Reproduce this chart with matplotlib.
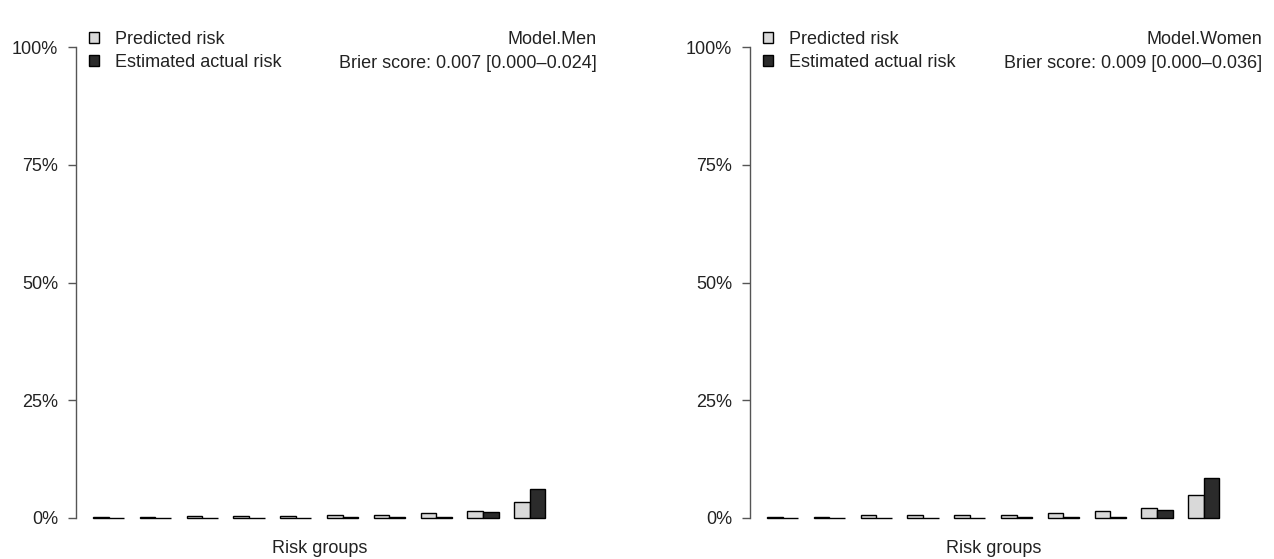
import numpy as np
import matplotlib
matplotlib.use('Agg')
import matplotlib.pyplot as plt
from matplotlib.patches import Patch
from matplotlib.transforms import blended_transform_factory

plt.rcParams['font.family'] = ['Liberation Sans', 'DejaVu Sans']

# risk per decile group, in percent
groups = np.arange(1, 11)
men_predicted = [0.2, 0.2, 0.5, 0.5, 0.5, 0.7, 0.7, 1.0, 1.55, 3.5]
men_actual = [0.0, 0.0, 0.0, 0.0, 0.0, 0.3, 0.3, 0.3, 1.3, 6.2]
women_predicted = [0.2, 0.2, 0.55, 0.55, 0.7, 0.7, 1.0, 1.5, 2.05, 4.9]
women_actual = [0.0, 0.0, 0.0, 0.0, 0.0, 0.3, 0.3, 0.3, 1.6, 8.5]

y_ticks = [0, 25, 50, 75, 100]
y_ticklabels = ['0%', '25%', '50%', '75%', '100%']
legend_labels = ['Predicted risk', 'Estimated actual risk']
men_title = 'Model.Men'
men_brier = 'Brier score: 0.007 [0.000\u20130.024]'
women_title = 'Model.Women'
women_brier = 'Brier score: 0.009 [0.000\u20130.036]'

light = '#d9d9d9'
dark = '#2b2b2b'
axcol = '#555555'
txtcol = '#222222'
fs = 13

W, H = 1274, 559
fig = plt.figure(figsize=(W / 100, H / 100), dpi=100)


def panel(x0, x1, predicted, actual, title, brier):
    # axes box in pixel units: left spine at x0, 0% at y=518, 100% at y=47
    ax = fig.add_axes([x0 / W, (H - 518) / H, (x1 - x0) / W, 471 / H])
    unit = 15.6
    left = 1 + 3 * (groups - 1)   # barplot layout: width 1, gap 1 between pairs
    ax.bar(left, predicted, width=1, align='edge', color=light,
           edgecolor='black', linewidth=1.0, clip_on=False)
    ax.bar(left + 1, actual, width=1, align='edge', color=dark,
           edgecolor='black', linewidth=1.0, clip_on=False)
    ax.set_xlim(-1.4 / unit, (x1 - x0 - 1.4) / unit)
    ax.set_ylim(0, 100)
    for s in ['top', 'right', 'bottom']:
        ax.spines[s].set_visible(False)
    ax.spines['left'].set_color(axcol)
    ax.spines['left'].set_linewidth(1.0)
    ax.set_xticks([])
    ax.set_yticks(y_ticks)
    ax.set_yticklabels(y_ticklabels, fontsize=fs, color=txtcol)
    ax.tick_params(axis='y', length=6, width=1.0, color=axcol, pad=7)

    mid = (left[0] + left[-1] + 2) / 2
    tr = blended_transform_factory(ax.transData, ax.transAxes)
    ax.text(mid, -0.064, 'Risk groups', transform=tr, ha='center',
            va='center', fontsize=fs, color=txtcol)

    handles = [Patch(facecolor=light, edgecolor='black', linewidth=1.0),
               Patch(facecolor=dark, edgecolor='black', linewidth=1.0)]
    ax.legend(handles, legend_labels, loc='upper left',
              bbox_to_anchor=(0.005, 1.057), frameon=False, fontsize=fs,
              handlelength=0.55, handleheight=0.55, handletextpad=0.85,
              labelspacing=0.35, borderaxespad=0.2, labelcolor=txtcol)

    ax.text(1.0, 1 + 7 / 471, title, transform=ax.transAxes,
            ha='right', va='center', fontsize=fs, color=txtcol)
    ax.text(1.0, 1 - 17 / 471, brier, transform=ax.transAxes,
            ha='right', va='center', fontsize=fs, color=txtcol)
    return ax


panel(76, 597, men_predicted, men_actual, men_title, men_brier)
panel(750, 1262, women_predicted, women_actual, women_title, women_brier)

fig.savefig('out.png', dpi=100)
